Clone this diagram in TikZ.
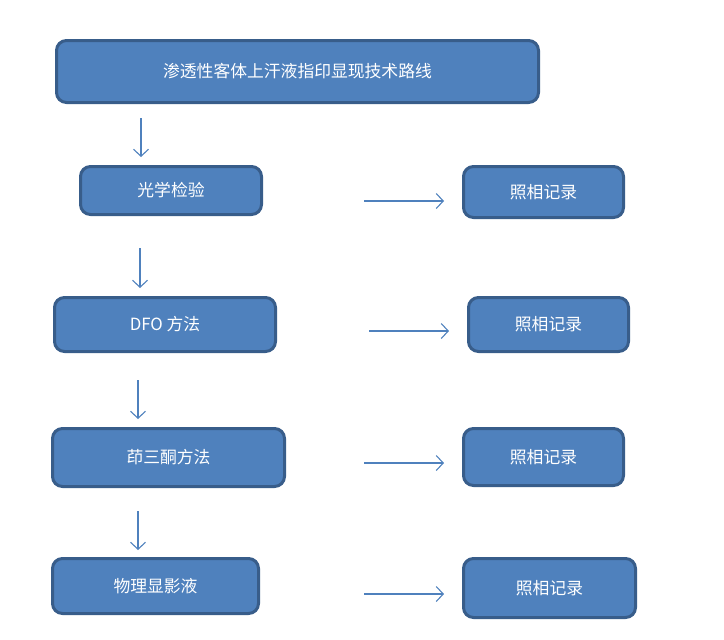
\documentclass[tikz,border=0pt]{standalone}
\usepackage{fontspec}
\setmainfont{Noto Sans CJK SC}
\usetikzlibrary{arrows.meta}
\definecolor{boxfill}{HTML}{4F81BD}
\definecolor{boxline}{HTML}{385D8A}
\definecolor{arrowc}{HTML}{4F81BD}
\tikzset{
  box/.style={draw=boxline, fill=boxfill, line width=3pt, rounded corners=10pt,
    text=white, font=\fontsize{16.8pt}{19pt}\selectfont, inner sep=0pt},
  flowarrow/.style={draw=arrowc, line width=1.1pt,
    -{Straight Barb[length=7pt,width=15pt,line width=1.1pt]}}
}
\begin{document}
\begin{tikzpicture}[x=1pt,y=-1pt]
\useasboundingbox (0,0) rectangle (724,640);
\node[box, minimum width=482pt, minimum height=62pt] (title) at (297.5,71.5) {渗透性客体上汗液指印显现技术路线};
\node[box, minimum width=181pt, minimum height=48pt] (b1) at (171,190.5) {光学检验};
\node[box, minimum width=160pt, minimum height=51pt] (r1) at (543.5,192) {照相记录};
\node[box, minimum width=221pt, minimum height=54pt] (b2) at (165,324.5) {DFO 方法};
\node[box, minimum width=160pt, minimum height=54pt] (r2) at (548.5,324.5) {照相记录};
\node[box, minimum width=232pt, minimum height=58pt] (b3) at (168.5,457.5) {茚三酮方法};
\node[box, minimum width=160pt, minimum height=57pt] (r3) at (543.5,457) {照相记录};
\node[box, minimum width=206pt, minimum height=55pt] (b4) at (155.5,586) {物理显影液};
\node[box, minimum width=172pt, minimum height=59pt] (r4) at (549.5,588) {照相记录};

\coordinate (v1s) at (141,118); \coordinate (v1e) at (141,157);
\coordinate (v2s) at (140,248); \coordinate (v2e) at (140,288);
\coordinate (v3s) at (138,380); \coordinate (v3e) at (138,419);
\coordinate (v4s) at (138,511); \coordinate (v4e) at (138,550);
\coordinate (h1s) at (364,201); \coordinate (h1e) at (444,201);
\coordinate (h2s) at (369,331); \coordinate (h2e) at (449,331);
\coordinate (h3s) at (364,463); \coordinate (h3e) at (444,463);
\coordinate (h4s) at (364,594); \coordinate (h4e) at (444,594);

\draw[flowarrow] (v1s) -- (v1e);
\draw[flowarrow] (v2s) -- (v2e);
\draw[flowarrow] (v3s) -- (v3e);
\draw[flowarrow] (v4s) -- (v4e);
\draw[flowarrow] (h1s) -- (h1e);
\draw[flowarrow] (h2s) -- (h2e);
\draw[flowarrow] (h3s) -- (h3e);
\draw[flowarrow] (h4s) -- (h4e);
\end{tikzpicture}
\end{document}
